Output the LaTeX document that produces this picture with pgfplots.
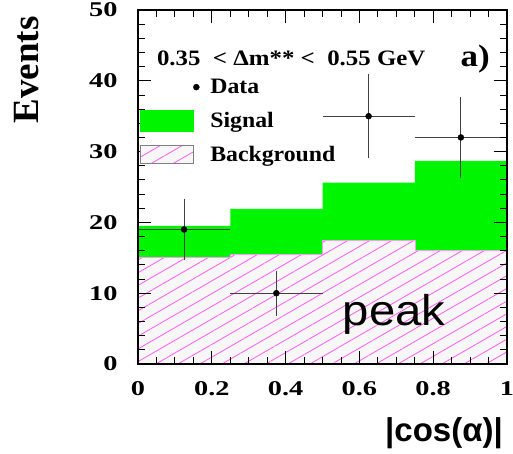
\documentclass[border=0pt]{standalone}
\usepackage{pgfplots}
\pgfplotsset{compat=1.18}
\usepackage{fontspec}
\setmainfont{Liberation Serif}
\newfontfamily\arialfont{Liberation Sans}
\newfontfamily\peakfont[FakeStretch=1.1]{Liberation Sans}
\newfontfamily\tickfont[FakeStretch=1.35]{Liberation Serif}
\newfontfamily\headfont[FakeStretch=1.13]{Liberation Serif}
\newfontfamily\legfont[FakeStretch=1.08]{Liberation Serif}
\usetikzlibrary{patterns.meta}
\definecolor{hatch}{RGB}{255,90,240}
\definecolor{sig}{RGB}{0,245,0}
\begin{document}
\begin{tikzpicture}
\useasboundingbox (-138pt,-90pt) rectangle (375pt,364pt);
\begin{axis}[
  scale only axis, width=369pt, height=354pt,
  xmin=0, xmax=1, ymin=0, ymax=50,
  xtick={0,0.2,0.4,0.6,0.8,1}, ytick={0,10,20,30,40,50},
  minor x tick num=3, minor y tick num=4,
  tick align=inside,
  major tick length=13pt, minor tick length=7pt,
  every tick/.style={black, line width=0.9pt},
  axis line style={line width=1.4pt},
  axis on top,
  /pgf/number format/assume math mode=true,
  ticklabel style={font=\tickfont\bfseries\fontsize{21}{21}\selectfont},
  xticklabel style={yshift=-14pt},
  yticklabel style={xshift=-17pt},
  legend style={at={(0.005,0.811)}, anchor=north west, draw=none, fill=none,
    inner sep=0pt, row sep=13pt,
    font=\legfont\bfseries\fontsize{22}{22}\selectfont,
    nodes={inner sep=0pt, anchor=west}},
  legend cell align=left,
]
\addlegendimage{legend image code/.code={
  \path[draw=none,fill=none] (0,-10pt) rectangle (70pt,10pt);
  \fill[black] (56pt,0) circle (3pt);}}
\addlegendentry{Data}
\addlegendimage{legend image code/.code={
  \path[draw=none,fill=none] (0,-10pt) rectangle (70pt,10pt);
  \fill[sig] (0,-10.5pt) rectangle (53pt,10.5pt);}}
\addlegendentry{Signal}
\addlegendimage{legend image code/.code={
  \path[draw=none,fill=none] (0,-10pt) rectangle (70pt,10pt);
  \draw[gray, line width=0.6pt, fill=gray!6, postaction={pattern={Lines[angle=30,distance=11pt,line width=0.8pt]}, pattern color=hatch}] (0,-9pt) rectangle (53pt,9pt);}}
\addlegendentry{Background}

% signal + background (total)
\addplot[const plot, fill=sig, draw=none, forget plot]
  coordinates {(0,19.5) (0.25,21.9) (0.5,25.6) (0.75,28.7) (1,28.7)} \closedcycle;
% background
\addplot[const plot, fill=gray!6, draw=hatch!60, line width=0.5pt, forget plot,
  postaction={pattern={Lines[angle=30,distance=11pt,line width=0.8pt]}, pattern color=hatch}]
  coordinates {(0,15.1) (0.25,15.5) (0.5,17.5) (0.75,16.1) (1,16.1)} \closedcycle;
% data
\addplot[only marks, mark=*, mark size=3pt, black, forget plot,
  error bars/.cd, x dir=both, x explicit, y dir=both, y explicit,
  error bar style={line width=1.2pt, black!75}, error mark=none]
  coordinates {
   (0.125,19) +- (0.125,4.36)
   (0.375,10) +- (0.125,3.16)
   (0.625,35) +- (0.125,5.92)
   (0.875,32) +- (0.125,5.66)
  };
\node[anchor=base west, font=\headfont\bfseries\fontsize{22}{22}\selectfont, inner sep=0pt]
  at (axis cs:0.051,42.2) {0.35 \ < Δm** < \ 0.55 GeV};
\node[anchor=base east, font=\headfont\bfseries\fontsize{31}{31}\selectfont, inner sep=0pt]
  at (axis cs:0.954,42.0) {a)};
\node[anchor=base, font=\peakfont\fontsize{43}{43}\selectfont, inner sep=0pt]
  at (axis cs:0.694,5.4) {peak};
\end{axis}
\node[rotate=90, font=\bfseries\fontsize{37}{37}\selectfont, inner sep=0pt] at (-111pt,294pt) {Events};
\node[font=\arialfont\bfseries\fontsize{33}{33}\selectfont, inner sep=0pt] at (306pt,-69pt) {|cos(α)|};
\end{tikzpicture}
\end{document}
